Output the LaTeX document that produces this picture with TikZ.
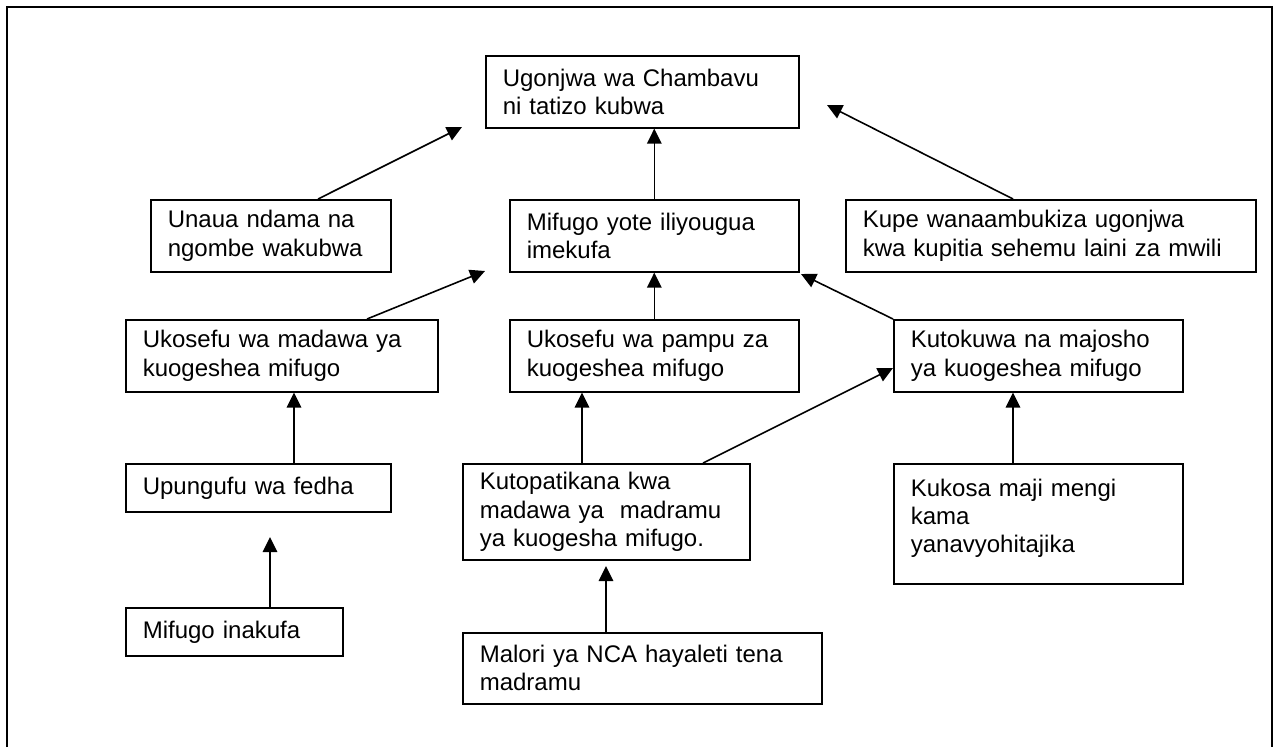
\documentclass[tikz,border=0pt]{standalone}
\usepackage{fontspec}
\setmainfont{Liberation Sans}
\usetikzlibrary{arrows.meta}

\tikzset{
  box/.style={draw,line width=0.9pt,anchor=north west,align=left,inner xsep=3.4mm,inner ysep=0pt,
    font=\fontsize{13.66}{15.94}\selectfont},
  arr/.style={line width=0.9pt,-{Triangle[length=3mm,width=2.9mm]}}
}

\begin{document}
\begin{tikzpicture}[x=0.2mm,y=-0.2mm]
    \useasboundingbox (0,0) rectangle (1275,747);
    \draw[line width=1pt] (7,747) -- (7,7) -- (1272,7) -- (1272,747);
    \node[box,text width=5.58cm,minimum height=1.44cm] (top) at (485,55) {Ugonjwa wa Chambavu\\ni tatizo kubwa};
    \node[box,text width=4.12cm,minimum height=1.44cm] (unaua) at (150,199) {Unaua ndama na\\ngombe wakubwa};
    \node[box,text width=5.10cm,minimum height=1.44cm] (dead) at (509,199) {Mifugo yote iliyougua\\imekufa};
    \node[box,text width=7.52cm,minimum height=1.44cm] (kupe) at (845,199) {Kupe wanaambukiza ugonjwa\\kwa kupitia sehemu laini za mwili};
    \node[box,text width=5.56cm,minimum height=1.44cm] (madawa) at (125,319) {Ukosefu wa madawa ya\\kuogeshea mifugo};
    \node[box,text width=5.10cm,minimum height=1.44cm] (pampu) at (509,319) {Ukosefu wa pampu za\\kuogeshea mifugo};
    \node[box,text width=5.10cm,minimum height=1.44cm] (majosho) at (893,319) {Kutokuwa na majosho\\ya kuogeshea mifugo};
    \node[box,text width=4.62cm,minimum height=0.96cm] (fedha) at (125,463) {Upungufu wa fedha};
    \node[box,text width=5.06cm,minimum height=1.92cm] (dawa) at (462,463) {Kutopatikana kwa\\madawa ya\ \ madramu\\ya kuogesha mifugo.};
    \node[box,text width=5.10cm,minimum height=2.40cm] (maji) at (893,463) {Kukosa maji mengi\\kama\\yanavyohitajika\\[-0.5em]\mbox{}};
    \node[box,text width=3.66cm,minimum height=0.96cm] (inakufa) at (125,607) {Mifugo inakufa};
    \node[box,text width=6.50cm,minimum height=1.42cm] (malori) at (462,632) {Malori ya NCA hayaleti tena\\madramu};
    \coordinate (t1) at (462,127);
    \coordinate (t2) at (827,105);
    \coordinate (t3) at (485,271);
    \coordinate (t4) at (801,274);
    \coordinate (t5) at (270,537);
    \coordinate (t6) at (893,368);
    \coordinate (t7) at (606,566);
    \draw[arr] (dead.north) -- (dead.north |- top.south);
    \draw[arr] ([xshift=33.6mm]unaua.north west) -- (t1);
    \draw[arr] ([xshift=33.6mm]kupe.north west) -- (t2);
    \draw[arr] ([xshift=48.4mm]madawa.north west) -- (t3);
    \draw[arr] (pampu.north) -- (pampu.north |- dead.south);
    \draw[arr] (majosho.north west) -- (t4);
    \draw[arr] ([xshift=33.8mm]fedha.north west) -- ([xshift=33.8mm]fedha.north west |- madawa.south);
    \draw[arr] ([xshift=29mm]inakufa.north west) -- (t5);
    \draw[arr] ([xshift=24mm]dawa.north west) -- ([xshift=24mm]dawa.north west |- pampu.south);
    \draw[arr] ([xshift=48.2mm]dawa.north west) -- (t6);
    \draw[arr] ([xshift=24mm]maji.north west) -- ([xshift=24mm]maji.north west |- majosho.south);
    \draw[arr] ([xshift=28.8mm]malori.north west) -- (t7);
\end{tikzpicture}
\end{document}
